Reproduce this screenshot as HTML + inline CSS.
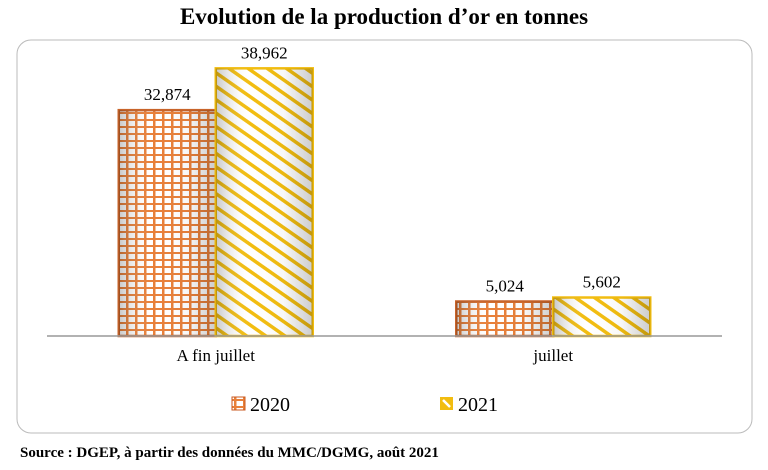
<!DOCTYPE html>
<html><head><meta charset="utf-8"><style>
body{margin:0;background:#fff;width:768px;height:465px;overflow:hidden;font-family:"Liberation Serif",serif}
</style></head><body>
<svg width="768" height="465" id="svg">
<defs>
<pattern id="grid" width="9" height="7" patternUnits="userSpaceOnUse">
<rect width="9" height="7" fill="#fff"/>
<rect x="0" y="0" width="2.5" height="7" fill="#e8803a"/>
<rect x="0" y="0" width="9" height="2" fill="#e8803a"/>
</pattern>
<pattern id="stripe" width="11" height="11" patternUnits="userSpaceOnUse" patternTransform="rotate(35)">
<rect width="11" height="11" fill="#fff"/>
<rect width="11" height="3.5" fill="#f2bd10"/>
</pattern>
<linearGradient id="shade" x1="0" x2="1" y1="0" y2="0">
<stop offset="0" stop-color="#000" stop-opacity="0.22"/>
<stop offset="0.35" stop-color="#fff" stop-opacity="0"/>
<stop offset="0.7" stop-color="#000" stop-opacity="0.03"/>
<stop offset="1" stop-color="#000" stop-opacity="0.2"/>
</linearGradient>
</defs>
<text x="384" y="24" text-anchor="middle" font-size="23" font-weight="bold">Evolution de la production d’or en tonnes</text>
<rect x="17" y="40" width="735" height="393" rx="14" fill="none" stroke="#bbb" stroke-width="1"/>
<g id="bars"></g>
<line x1="47" y1="336" x2="722" y2="336" stroke="#999" stroke-width="1.5"/>
<g id="labels"></g>
<rect x="232" y="397" width="13" height="13" fill="url(#grid)" stroke="#c85a20"/>
<text x="250" y="411" font-size="20">2020</text>
<rect x="440" y="397" width="13" height="13" fill="#f2bd10"/>
<path d="M443 400 L450 407" stroke="#fff" stroke-width="2.5"/>
<text x="458" y="411" font-size="20">2021</text>
<text x="20" y="457" font-size="15" font-weight="bold">Source : DGEP, à partir des données du MMC/DGMG, août 2021</text>
</svg>
<script>
const categories=["A fin juillet","juillet"];
const series2020=[32.874,5.024];
const series2021=[38.962,5.602];
const valueLabels2020=["32,874","5,024"];
const valueLabels2021=["38,962","5,602"];
const NS="http://www.w3.org/2000/svg";
const x0=47,x1=722,base=336,pxPer=6.87,bw=97;
const bandW=(x1-x0)/categories.length;
const y=v=>base-v*pxPer;
const g=document.getElementById('bars'),lg=document.getElementById('labels');
function mk(tag,a,p){const e=document.createElementNS(NS,tag);for(const k in a)e.setAttribute(k,a[k]);p.appendChild(e);return e;}
categories.forEach((c,i)=>{
 const cx=x0+bandW*(i+0.5);
 [[series2020,valueLabels2020,'url(#grid)','#c8642a',-1,'2020'],[series2021,valueLabels2021,'url(#stripe)','#f2bd10',0,'2021']].forEach(s=>{
  const v=s[0][i],bx=cx+s[4]*bw,top=y(v);
  const r=mk('rect',{x:bx,y:top,width:bw,height:base-top,fill:s[2],stroke:s[3],'stroke-width':2.5},g);
  
  
  const sh=mk('rect',{x:bx,y:top,width:bw,height:base-top,fill:'url(#shade)'},g);
  
  
  const t=mk('text',{x:bx+bw/2,y:top-10,'text-anchor':'middle','font-size':17},lg);
  t.textContent=s[1][i];
  
  
 });
 const t=mk('text',{x:cx,y:361,'text-anchor':'middle','font-size':17},lg);
 t.textContent=c;
 
 
});
</script>
</body></html>
